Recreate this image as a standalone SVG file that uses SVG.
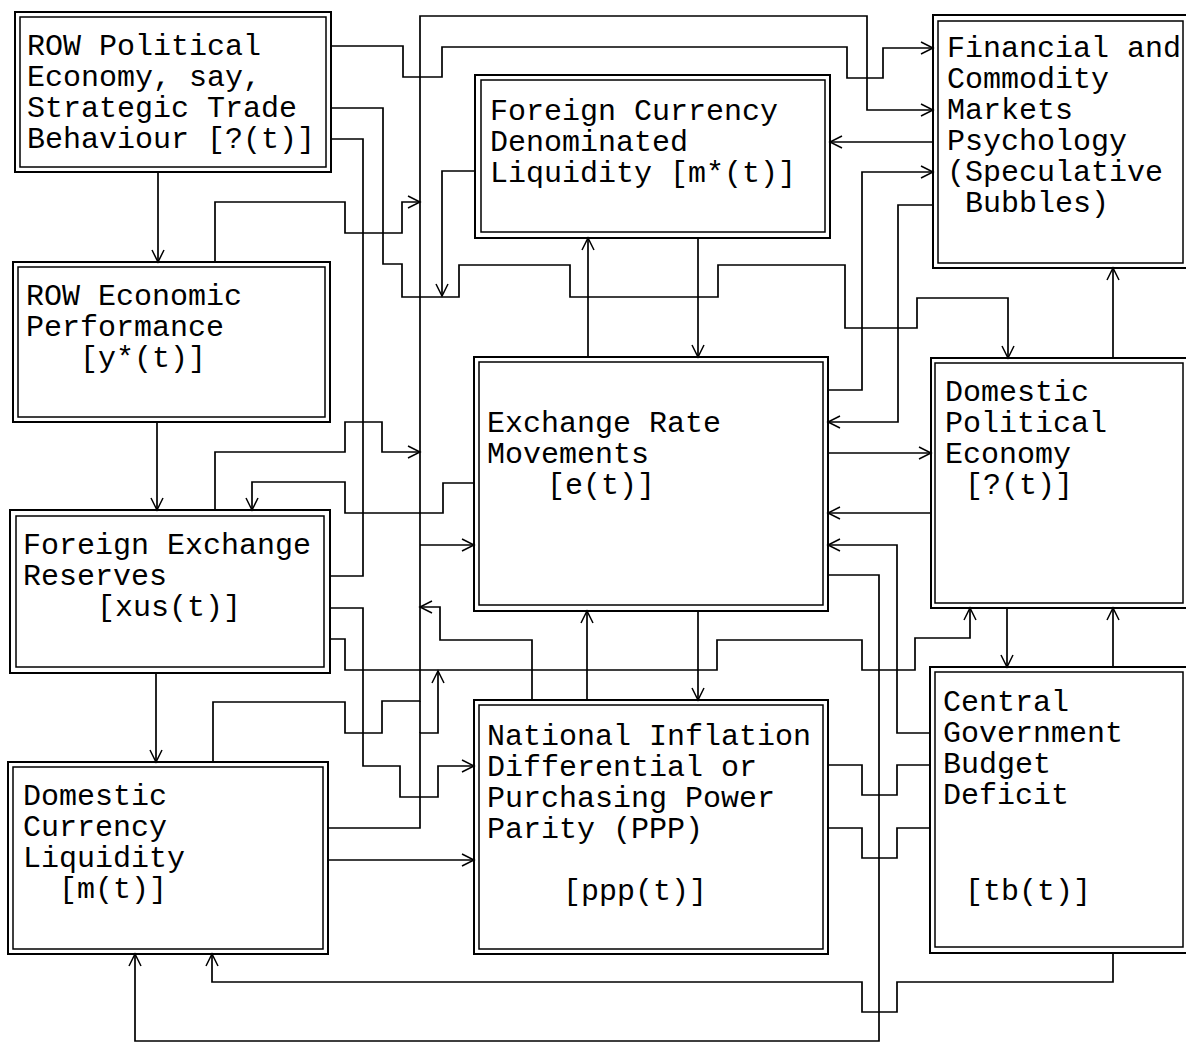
<svg xmlns="http://www.w3.org/2000/svg" width="1186" height="1045" viewBox="0 0 1186 1045">
<style>
.bo{fill:#fff;stroke:#000;stroke-width:2}
.bi{fill:none;stroke:#000;stroke-width:1.5}
.t{font-family:"Liberation Mono","Courier New",monospace;font-size:30px;fill:#000}
.c{fill:none;stroke:#000;stroke-width:1.7;stroke-linejoin:miter}
.a{marker-end:url(#arr)}
</style>
<defs>
<marker id="arr" markerUnits="userSpaceOnUse" markerWidth="16" markerHeight="14" refX="13" refY="7" orient="auto">
<path d="M1,1 L13,7 L1,13" fill="none" stroke="#000" stroke-width="1.5"/>
</marker>
</defs>
<rect width="1186" height="1045" fill="#fff"/>

<g id="row-political">
<rect class="bo" x="15" y="12" width="316" height="160"/>
<rect class="bi" x="20" y="17" width="306" height="150"/>
<text class="t" x="27" y="55">ROW Political</text>
<text class="t" x="27" y="86">Economy, say,</text>
<text class="t" x="27" y="117">Strategic Trade</text>
<text class="t" x="27" y="148">Behaviour [?(t)]</text>
</g>
<g id="row-economic">
<rect class="bo" x="13" y="262" width="317" height="160"/>
<rect class="bi" x="18" y="267" width="307" height="150"/>
<text class="t" x="26" y="305">ROW Economic</text>
<text class="t" x="26" y="336">Performance</text>
<text class="t" x="80" y="367">[y*(t)]</text>
</g>
<g id="fx-reserves">
<rect class="bo" x="10" y="510" width="320" height="163"/>
<rect class="bi" x="16" y="516" width="308" height="151"/>
<text class="t" x="23" y="554">Foreign Exchange</text>
<text class="t" x="23" y="585">Reserves</text>
<text class="t" x="97" y="616">[xus(t)]</text>
</g>
<g id="domestic-liquidity">
<rect class="bo" x="8" y="762" width="320" height="192"/>
<rect class="bi" x="13" y="767" width="310" height="182"/>
<text class="t" x="23" y="805">Domestic</text>
<text class="t" x="23" y="836">Currency</text>
<text class="t" x="23" y="867">Liquidity</text>
<text class="t" x="59" y="898">[m(t)]</text>
</g>
<g id="foreign-liquidity">
<rect class="bo" x="475" y="75" width="355" height="163"/>
<rect class="bi" x="481" y="80" width="344" height="152"/>
<text class="t" x="490" y="120">Foreign Currency</text>
<text class="t" x="490" y="151">Denominated</text>
<text class="t" x="490" y="182">Liquidity [m*(t)]</text>
</g>
<g id="markets-psychology">
<rect class="bo" x="933" y="15" width="260" height="253"/>
<rect class="bi" x="938" y="21" width="245" height="242"/>
<text class="t" x="947" y="57">Financial and</text>
<text class="t" x="947" y="88">Commodity</text>
<text class="t" x="947" y="119">Markets</text>
<text class="t" x="947" y="150">Psychology</text>
<text class="t" x="947" y="181">(Speculative</text>
<text class="t" x="965" y="212">Bubbles)</text>
</g>
<g id="exchange-rate">
<rect class="bo" x="474" y="357" width="354" height="254"/>
<rect class="bi" x="479" y="362" width="344" height="243"/>
<text class="t" x="487" y="432">Exchange Rate</text>
<text class="t" x="487" y="463">Movements</text>
<text class="t" x="547" y="494">[e(t)]</text>
</g>
<g id="domestic-political">
<rect class="bo" x="931" y="358" width="262" height="250"/>
<rect class="bi" x="935" y="363" width="248" height="240"/>
<text class="t" x="945" y="401">Domestic</text>
<text class="t" x="945" y="432">Political</text>
<text class="t" x="945" y="463">Economy</text>
<text class="t" x="965" y="494">[?(t)]</text>
</g>
<g id="inflation-ppp">
<rect class="bo" x="474" y="700" width="354" height="254"/>
<rect class="bi" x="479" y="705" width="344" height="244"/>
<text class="t" x="487" y="745">National Inflation</text>
<text class="t" x="487" y="776">Differential or</text>
<text class="t" x="487" y="807">Purchasing Power</text>
<text class="t" x="487" y="838">Parity (PPP)</text>
<text class="t" x="563" y="900">[ppp(t)]</text>
</g>
<g id="budget-deficit">
<rect class="bo" x="930" y="667" width="263" height="286"/>
<rect class="bi" x="935" y="672" width="248" height="275"/>
<text class="t" x="943" y="711">Central</text>
<text class="t" x="943" y="742">Government</text>
<text class="t" x="943" y="773">Budget</text>
<text class="t" x="943" y="804">Deficit</text>
<text class="t" x="965" y="900">[tb(t)]</text>
</g>

<g id="connectors">
<path class="c a" d="M158,172 V262"/>
<path class="c a" d="M157,422 V510"/>
<path class="c a" d="M156,673 V762"/>
<path class="c a" d="M331,46 H403 V77 H442 V47 H847 V78 H883 V48 H933"/>
<path class="c a" d="M213,762 V702 H345 V733 H382 V701 H420 V16 H867 V110 H933"/>
<path class="c" d="M420,701 V733"/>
<path class="c a" d="M331,108 H383 V264 H402 V297 H459 V265 H570 V297 H718 V265 H845 V328 H917 V298 H1008 V358"/>
<path class="c" d="M331,139 H363 V576 H330"/>
<path class="c a" d="M215,262 V202 H345 V233 H402 V202 H420"/>
<path class="c a" d="M215,510 V452 H345 V422 H382 V452 H420"/>
<path class="c a" d="M474,483 H443 V513 H345 V482 H252 V510"/>
<path class="c a" d="M420,545 H474"/>
<path class="c a" d="M532,700 V640 H440 V607 H420"/>
<path class="c a" d="M330,608 H363 V766 H400 V797 H438 V766 H474"/>
<path class="c a" d="M330,639 H345 V670 H717 V640 H862 V670 H915 V638 H970 V608"/>
<path class="c a" d="M328,828 H420 V733 H438 V671"/>
<path class="c a" d="M328,860 H474"/>
<path class="c a" d="M475,171 H442 V296"/>
<path class="c a" d="M933,142 H830"/>
<path class="c a" d="M828,390 H862 V172 H933"/>
<path class="c a" d="M933,205 H898 V422 H828"/>
<path class="c a" d="M698,238 V357"/>
<path class="c a" d="M588,357 V238"/>
<path class="c a" d="M828,453 H931"/>
<path class="c a" d="M931,513 H828"/>
<path class="c a" d="M930,733 H897 V545 H828"/>
<path class="c a" d="M828,575 H879 V1041 H135 V954"/>
<path class="c a" d="M1113,358 V268"/>
<path class="c a" d="M1007,608 V667"/>
<path class="c a" d="M1113,667 V608"/>
<path class="c a" d="M587,700 V611"/>
<path class="c a" d="M698,611 V700"/>
<path class="c" d="M828,765 H862 V795 H897 V765 H930"/>
<path class="c" d="M828,828 H862 V858 H897 V828 H930"/>
<path class="c a" d="M1113,953 V982 H897 V1012 H862 V982 H212 V954"/>
</g>
</svg>
